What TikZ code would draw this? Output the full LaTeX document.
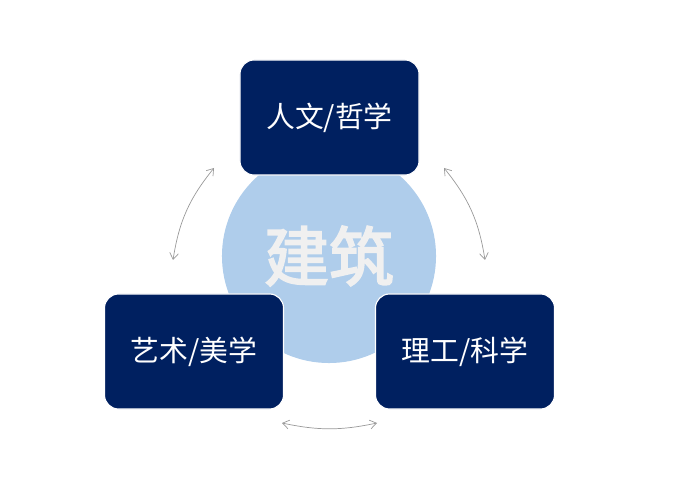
\documentclass[tikz,border=0pt]{standalone}
\usepackage{fontspec}
\newfontfamily\cjk{Noto Sans CJK SC}
\newfontfamily\cjkcore[FakeBold=3]{Noto Sans CJK SC}
\usetikzlibrary{arrows.meta}
\definecolor{boxblue}{HTML}{002060}
\definecolor{corefill}{HTML}{AFCDEB}
\definecolor{arcgray}{HTML}{9A9A9A}
\begin{document}
\begin{tikzpicture}[
    x=0.025cm, y=-0.025cm,
    every node/.style={font=\cjk},
    box/.style={rectangle, draw=white, line width=0.8pt, fill=boxblue, rounded corners=10pt,
        minimum width=4.475cm, minimum height=2.875cm, align=center, text=white,
        font=\cjk\fontsize{20.5}{24}\selectfont},
    link/.style={{Straight Barb[length=1.6mm,width=2.2mm]}-{Straight Barb[length=1.6mm,width=2.2mm]}, arcgray, line width=0.5pt}
]
\useasboundingbox (0,0) rectangle (683,484);

% centre
\node[circle, fill=corefill, minimum size=5.35cm, inner sep=0pt, text=white!94!black,
    font=\cjkcore\fontsize{46}{52}\selectfont] (core) at (329,256) {建筑};

% three fields
\node[box] (hum) at (329.5,117.5) {人文/哲学};
\node[box] (art) at (194,351.5) {艺术/美学};
\node[box] (sci) at (465,351.5) {理工/科学};

% arc ends
\coordinate (hl) at (214,168);
\coordinate (al) at (173,260);
\coordinate (hr) at (444,168);
\coordinate (sr) at (485,260);
\coordinate (ab) at (282,423);
\coordinate (sb) at (377,423);

% arrows
\draw[link] (hl) to[bend right=15] (al);
\draw[link] (hr) to[bend left=15] (sr);
\draw[link] (ab) to[bend right=12] (sb);

\end{tikzpicture}
\end{document}
